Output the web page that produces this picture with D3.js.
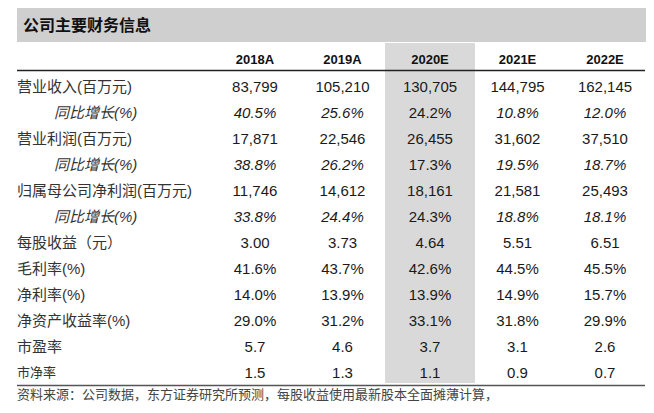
<!DOCTYPE html>
<html>
<head>
<meta charset="utf-8">
<script src="https://cdn.jsdelivr.net/npm/d3@7"></script>
<style>
  body { margin: 0; background: #fff; }
  svg { display: block; }
</style>
</head>
<body>
<svg id="svg-main" width="654" height="413"></svg>
<script>
// table data
var title = "公司主要财务信息";
var years = ["2018A", "2019A", "2020E", "2021E", "2022E"];
var highlightYear = "2020E";
var rowLabels = ["营业收入(百万元)", "同比增长(%)", "营业利润(百万元)", "同比增长(%)",
    "归属母公司净利润(百万元)", "同比增长(%)", "每股收益（元）", "毛利率(%)",
    "净利率(%)", "净资产收益率(%)", "市盈率", "市净率"];
var revenue = [83799, 105210, 130705, 144795, 162145];
var revenueGrowth = [40.5, 25.6, 24.2, 10.8, 12.0];
var opProfit = [17871, 22546, 26455, 31602, 37510];
var opProfitGrowth = [38.8, 26.2, 17.3, 19.5, 18.7];
var netProfit = [11746, 14612, 18161, 21581, 25493];
var netProfitGrowth = [33.8, 24.4, 24.3, 18.8, 18.1];
var eps = [3.00, 3.73, 4.64, 5.51, 6.51];
var grossMargin = [41.6, 43.7, 42.6, 44.5, 45.5];
var netMargin = [14.0, 13.9, 13.9, 14.9, 15.7];
var roe = [29.0, 31.2, 33.1, 31.8, 29.9];
var pe = [5.7, 4.6, 3.7, 3.1, 2.6];
var pb = [1.5, 1.3, 1.1, 0.9, 0.7];
var source = "资料来源：公司数据，东方证券研究所预测，每股收益使用最新股本全面摊薄计算，";

var fmtInt = d3.format(",");
var fmtPct = function(v) { return d3.format(".1f")(v) + "%"; };
var fmt2 = d3.format(".2f");
var fmt1 = d3.format(".1f");

var rows = [
    {values: revenue, fmt: fmtInt},
    {values: revenueGrowth, fmt: fmtPct, growth: true},
    {values: opProfit, fmt: fmtInt},
    {values: opProfitGrowth, fmt: fmtPct, growth: true},
    {values: netProfit, fmt: fmtInt},
    {values: netProfitGrowth, fmt: fmtPct, growth: true},
    {values: eps, fmt: fmt2},
    {values: grossMargin, fmt: fmtPct},
    {values: netMargin, fmt: fmtPct},
    {values: roe, fmt: fmtPct},
    {values: pe, fmt: fmt1},
    {values: pb, fmt: fmt1}
];
rows.forEach(function(r, i) { r.label = rowLabels[i]; r.idx = i; });

var font = "'Liberation Sans', Arial, 'Noto Sans CJK SC', sans-serif";
var svg = d3.select("#svg-main");

var x = d3.scalePoint().domain(years).range([255, 605]);
var y = d3.scaleBand().domain(d3.range(rows.length)).range([73, 385]);

// title bar
svg.append("rect")
  .attr("x", 17).attr("y", 8)
  .attr("width", 629).attr("height", 34)
  .attr("fill", "#cfcfcf");

svg.append("text")
  .attr("x", 23).attr("y", 25)
  .attr("dominant-baseline", "central")
  .attr("font-family", font)
  .attr("font-weight", "bold")
  .style("font-size", "16px")
  .attr("fill", "#111")
  .text(title);

// highlighted column
svg.append("rect")
  .attr("x", x(highlightYear) - 45).attr("y", 43)
  .attr("width", 90).attr("height", 340)
  .attr("fill", "#d9d9d9");

// header
svg.selectAll("text.year")
  .data(years)
  .enter()
  .append("text")
  .attr("class", "year")
  .attr("x", function(d) { return x(d); })
  .attr("y", 59)
  .attr("text-anchor", "middle")
  .attr("dominant-baseline", "central")
  .attr("font-family", font)
  .attr("font-weight", "bold")
  .style("font-size", "13px")
  .attr("fill", "#111")
  .text(function(d) { return d; });

svg.append("line")
  .attr("x1", 17).attr("x2", 645)
  .attr("y1", 70.5).attr("y2", 70.5)
  .attr("stroke", "#222")
  .attr("stroke-width", 1.5);

// row labels
svg.selectAll("text.label")
  .data(rows)
  .enter()
  .append("text")
  .attr("class", "label")
  .attr("x", function(d) { return d.growth ? 54 : 17; })
  .attr("y", function(d) { return y(d.idx) + y.bandwidth() / 2; })
  .attr("dominant-baseline", "central")
  .attr("font-family", font)
  .attr("font-style", function(d) { return d.growth ? "italic" : "normal"; })
  .style("font-size", function(d) { return d.idx === rows.length - 1 ? "13px" : "15px"; })
  .attr("fill", "#333")
  .text(function(d) { return d.label; });

// cells
var rowG = svg.selectAll("g.row")
  .data(rows)
  .enter()
  .append("g")
  .attr("class", "row")
  .attr("transform", function(d) { return "translate(0," + (y(d.idx) + y.bandwidth() / 2) + ")"; });

rowG.selectAll("text")
  .data(function(d) {
      return d.values.map(function(v, j) {
          return {v: v, year: years[j], row: d};
      });
  })
  .enter()
  .append("text")
  .attr("x", function(d) { return x(d.year); })
  .attr("y", 0)
  .attr("text-anchor", "middle")
  .attr("dominant-baseline", "central")
  .attr("font-family", font)
  .attr("font-style", function(d) {
      return (d.row.growth && d.year !== highlightYear) ? "italic" : "normal";
  })
  .style("font-size", "15px")
  .attr("fill", "#1a1a1a")
  .text(function(d) { return d.row.fmt(d.v); });

// bottom rule and source
svg.append("line")
  .attr("x1", 17).attr("x2", 645)
  .attr("y1", 385.5).attr("y2", 385.5)
  .attr("stroke", "#555")
  .attr("stroke-width", 1.5);

svg.append("text")
  .attr("x", 17).attr("y", 394)
  .attr("dominant-baseline", "central")
  .attr("font-family", font)
  .style("font-size", "13px")
  .attr("fill", "#444")
  .text(source);
</script>
</body>
</html>
